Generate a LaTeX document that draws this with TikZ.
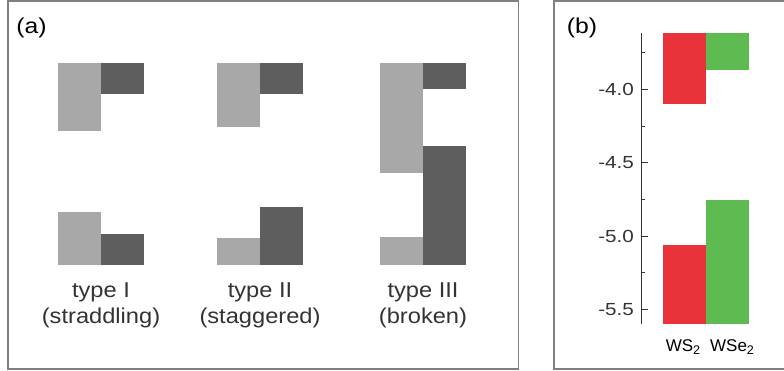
\documentclass[tikz,border=0pt]{standalone}
\usepackage{fontspec}
\setmainfont{Liberation Sans}
\definecolor{lightband}{HTML}{A8A8A8}
\definecolor{darkband}{HTML}{5E5E5E}
\definecolor{wsred}{HTML}{E9333A}
\definecolor{wsegreen}{HTML}{5EBB52}
\definecolor{framegray}{HTML}{808080}
\definecolor{ink}{HTML}{333333}
\newcommand{\sub}[1]{\raisebox{-0.3ex}{\fontsize{12.5}{14}\selectfont #1}}

\begin{document}
\begin{tikzpicture}[x=1pt,y=-1pt,
    panel/.style={draw=framegray,line width=1.3pt},
    tag/.style={text=black,font=\fontsize{21.5}{24}\selectfont,xscale=1.15,transform shape},
    typelbl/.style={text=ink,font=\fontsize{21.5}{26}\selectfont,align=center,xscale=1.1,transform shape},
    ticklbl/.style={text=ink,font=\fontsize{17.5}{20}\selectfont,anchor=east,xscale=1.18,transform shape},
    matlbl/.style={text=black,font=\fontsize{17}{19}\selectfont},
    axis/.style={draw=ink,line width=0.9pt}]
  \useasboundingbox (0,0) rectangle (784,371);
  % frames
  \draw[panel] (8,1) rectangle (518.5,369);
  \draw[panel] (554,1) rectangle (795,369);
  \node[tag] (taga) at (31.5,28) {(a)};
  \node[tag] (tagb) at (582,28) {(b)};
  % band alignments
  \foreach \x/\lc/\dc/\lv/\dv in {58/131/94/212/234, 217/127/94/238/207, 380/173/89/237/146} {
    \fill[lightband] (\x,63) rectangle (\x+43,\lc);
    \fill[darkband] (\x+43,63) rectangle (\x+86,\dc);
    \fill[lightband] (\x,\lv) rectangle (\x+43,265);
    \fill[darkband] (\x+43,\dv) rectangle (\x+86,265);
  }
  \node[typelbl] (typeI) at (101,305) {type I\\(straddling)};
  \node[typelbl] (typeII) at (260,305) {type II\\(staggered)};
  \node[typelbl] (typeIII) at (423,305) {type III\\(broken)};
  % energy axis, eV
  \begin{scope}[y=146.7pt,yshift=497.5pt]
    \draw[axis] (641,-3.616) -- (641,-5.6);
    \foreach \v [count=\i] in {-4.0,-4.5,-5.0,-5.5} {
      \draw[axis] (641,\v) -- (648,\v);
      \node[ticklbl] (tick\i) at (638,\v) {\v};
    }
    \foreach \v in {-3.75,-4.25,-4.75,-5.25}
      \draw[axis] (641,\v) -- (645,\v);
    \fill[wsred] (663,-3.616) rectangle (706,-4.10);
    \fill[wsegreen] (706,-3.616) rectangle (749,-3.87);
    \fill[wsred] (663,-5.06) rectangle (706,-5.6);
    \fill[wsegreen] (706,-4.755) rectangle (749,-5.6);
  \end{scope}
  \node[matlbl] (ws) at (683,347) {WS\sub{2}};
  \node[matlbl] (wse) at (732,347) {WSe\sub{2}};
\end{tikzpicture}
\end{document}
